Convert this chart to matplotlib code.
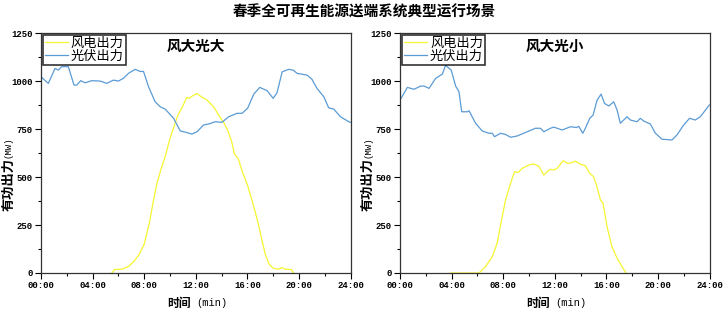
import matplotlib
matplotlib.use('Agg')
import matplotlib.pyplot as plt
from matplotlib.ticker import MultipleLocator, FuncFormatter

plt.rcParams['font.family'] = ['Noto Sans CJK SC', 'DejaVu Sans']

title = '春季全可再生能源送端系统典型运行场景'
panel_names = ['风大光大', '风大光小']
series_names = ['风电出力', '光伏出力']

# 风大光大 (hours, MW)
t_wind_1 = [5.5, 5.7, 6.3, 6.8, 7.2, 7.6, 8.0, 8.4, 8.7, 9.0, 9.3, 9.6, 9.8, 10.0,
            10.3, 10.6, 11.0, 11.3, 11.5, 11.8, 12.1, 12.3, 12.5, 12.8, 13.1, 13.4,
            13.8, 14.2, 14.5, 14.8, 15.0, 15.3, 15.6, 16.0, 16.4, 16.8, 17.1, 17.4,
            17.7, 18.0, 18.4, 18.7, 18.9, 19.4, 19.6]
wind_1 = [0, 18, 20, 35, 60, 95, 150, 260, 370, 470, 540, 600, 650, 700,
          760, 820, 870, 915, 910, 925, 935, 925, 915, 905, 885, 865,
          820, 780, 740, 680, 620, 595, 530, 460, 370, 270, 180, 95,
          45, 25, 20, 28, 20, 18, 0]

t_pv_1 = [0, 0.57, 1.09, 1.35, 1.6, 2.12, 2.56, 2.77, 3.08, 3.42, 3.94, 4.59, 5.1,
          5.62, 6.0, 6.39, 6.78, 7.3, 7.69, 7.95, 8.34, 8.85, 9.24, 9.63, 10.28,
          10.8, 11.18, 11.7, 12.1, 12.6, 12.99, 13.5, 14.03, 14.55, 15.2, 15.59,
          16.02, 16.49, 16.96, 17.53, 18.0, 18.3, 18.7, 19.2, 19.56, 19.86, 20.63,
          21.0, 21.4, 21.93, 22.3, 22.7, 23.22, 23.87, 24.0]
pv_1 = [1022, 988, 1066, 1057, 1075, 1075, 979, 979, 1002, 991, 1002, 1000, 988,
        1005, 1000, 1014, 1040, 1061, 1050, 1050, 970, 892, 866, 854, 806,
        740, 734, 724, 736, 771, 776, 788, 785, 814, 832, 832,
        858, 931, 967, 950, 910, 939, 1048, 1061, 1057, 1040, 1031,
        1010, 962, 918, 861, 854, 814, 788, 785]

# 风大光小
t_wind_2 = [3.9, 6.12, 6.63, 7.15, 7.53, 7.92, 8.18, 8.57, 8.88, 9.14, 9.47, 9.99,
            10.37, 10.76, 11.15, 11.4, 11.66, 11.92, 12.18, 12.65, 13.0, 13.34,
            13.6, 13.94, 14.37, 14.71, 15.0, 15.23, 15.54, 15.74, 16.05, 16.43,
            16.83, 17.21, 17.52]
wind_2 = [0, 0, 33, 85, 155, 293, 380, 467, 528, 523, 545, 563,
          568, 556, 510, 528, 540, 537, 545, 585, 571, 575,
          583, 568, 559, 519, 502, 458, 380, 363, 241, 137,
          77, 33, 0]

t_pv_2 = [0, 0.57, 1.08, 1.6, 1.86, 2.25, 2.76, 3.28, 3.53, 3.97, 4.31, 4.57, 4.78,
          5.21, 5.35, 5.86, 6.37, 6.89, 7.15, 7.33, 7.79, 8.18, 8.57, 9.09, 9.86,
          10.5, 10.89, 11.15, 11.66, 11.92, 12.57, 13.21, 13.68, 13.86, 14.17,
          14.37, 14.71, 14.97, 15.28, 15.59, 15.85, 16.18, 16.57, 16.83, 17.08,
          17.6, 17.86, 18.37, 18.63, 18.89, 19.41, 19.8, 20.31, 21.08, 21.47,
          21.99, 22.45, 22.89, 23.28, 23.98]
pv_2 = [901, 967, 957, 974, 974, 962, 1014, 1036, 1082, 1057, 974, 944, 840,
        840, 845, 780, 740, 728, 728, 710, 728, 722, 707, 714, 736,
        754, 754, 736, 754, 760, 745, 762, 758, 764, 728,
        754, 806, 823, 901, 932, 884, 870, 892, 849, 780,
        814, 797, 788, 806, 792, 776, 728, 697, 693, 719,
        771, 806, 797, 814, 875]

x_ticks = [0, 4, 8, 12, 16, 20, 24]
y_ticks = [0, 250, 500, 750, 1000, 1250]

wind_color = '#f5f530'
pv_color = '#5b9bd5'
mono = 'Liberation Mono'

fig = plt.figure(figsize=(7.28, 3.12), dpi=100)
fig.text(0.5, 0.962, title, ha='center', va='center', fontsize=10.5, fontweight='bold')

panels = [
    (t_wind_1, wind_1, t_pv_1, pv_1),
    (t_wind_2, wind_2, t_pv_2, pv_2),
]
lefts = [0.0563, 0.5495]

for k, (tw, w, tp, p) in enumerate(panels):
    ax = fig.add_axes([lefts[k], 0.125, 0.4252, 0.769])
    ax.plot(tw, w, color=wind_color, lw=0.9, label=series_names[0])
    ax.plot(tp, p, color=pv_color, lw=0.9, label=series_names[1])
    ax.set_xlim(0, 24)
    ax.set_ylim(0, 1250)
    ax.set_xticks(x_ticks)
    ax.xaxis.set_major_formatter(FuncFormatter(lambda v, pos: '%02d:00' % int(v)))
    ax.set_yticks(y_ticks)
    ax.xaxis.set_minor_locator(MultipleLocator(2))
    ax.yaxis.set_minor_locator(MultipleLocator(125))
    ax.tick_params(which='major', direction='out', length=4, width=0.8, labelsize=6.5, pad=2)
    ax.tick_params(which='minor', direction='out', length=2, width=0.8)
    for lab in ax.get_xticklabels() + ax.get_yticklabels():
        lab.set_family(mono)
        lab.set_fontweight('bold')
    for s in ax.spines.values():
        s.set_color('#333333')
        s.set_linewidth(0.9)
    ax.text(0.5, 0.945, panel_names[k], transform=ax.transAxes, ha='center', va='center',
            fontsize=10.5, fontweight='bold')
    leg = ax.legend(loc='upper left', fontsize=9.5, frameon=True, fancybox=False,
                    borderaxespad=0.12, borderpad=0.15, handlelength=1.8, handletextpad=0.2,
                    labelspacing=0.0)
    leg.get_frame().set_edgecolor('black')
    leg.get_frame().set_linewidth(1.2)
    # axis titles
    ax.text(-0.105, 0.37, '有功出力', transform=ax.transAxes, rotation=90, ha='center',
            va='center', fontsize=9.5, fontweight='bold')
    ax.text(-0.105, 0.525, '(MW)', transform=ax.transAxes, rotation=90, ha='center',
            va='center', fontsize=6.5, family=mono)
    ax.text(0.485, -0.125, '时间', transform=ax.transAxes, ha='right', va='center',
            fontsize=8.5, fontweight='bold')
    ax.text(0.5, -0.125, '(min)', transform=ax.transAxes, ha='left', va='center',
            fontsize=7.5, family=mono)

fig.savefig('out.png', dpi=100)
